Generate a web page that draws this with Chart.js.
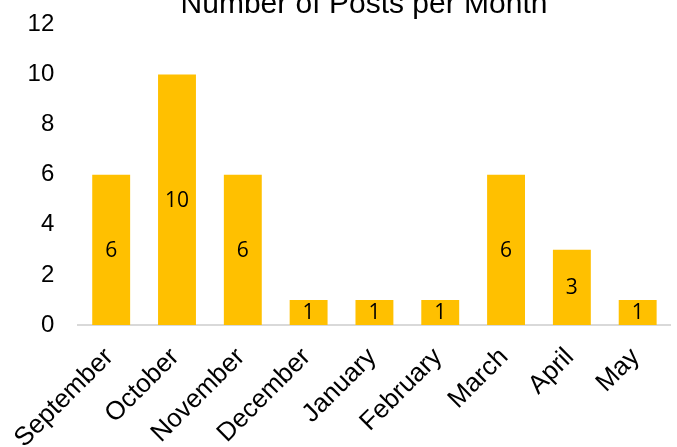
<!DOCTYPE html>
<html>
<head>
<meta charset="utf-8">
<script src="https://cdn.jsdelivr.net/npm/chart.js@4.4.0/dist/chart.umd.min.js"></script>
<style>
html,body{margin:0;padding:0;background:#fff;overflow:hidden;}
#wrap{width:677px;height:447px;position:relative;overflow:hidden;}
#c{position:absolute;left:0;top:-14px;}
</style>
</head>
<body>
<div id="wrap"><canvas id="c" width="677" height="461"></canvas></div>
<script>
const months = ["September","October","November","December","January","February","March","April","May"];
const posts = [6,10,6,1,1,1,6,3,1];
const yTicks = [0,2,4,6,8,10,12];
const chartTitle = "Number of Posts per Month";

const titlePlugin = {
  id: 'offTitle',
  afterDraw(chart) {
    const ctx = chart.ctx;
    ctx.save();
    ctx.font = '30px "Liberation Sans", Arial, sans-serif';
    ctx.fillStyle = '#000';
    ctx.textAlign = 'center';
    ctx.textBaseline = 'alphabetic';
    ctx.fillText(chartTitle, 364, 27);
    ctx.restore();
  }
};

const valueLabels = {
  id: 'valueLabels',
  afterDatasetsDraw(chart) {
    const ctx = chart.ctx;
    const meta = chart.getDatasetMeta(0);
    ctx.save();
    ctx.font = '21px "Open Sans", sans-serif';
    ctx.fillStyle = '#000';
    ctx.textAlign = 'center';
    ctx.textBaseline = 'middle';
    meta.data.forEach((bar, i) => {
      const v = chart.data.datasets[0].data[i];
      ctx.fillText(String(v), bar.x, (bar.y + bar.base) / 2 + 1);
    });
    ctx.restore();
  }
};

new Chart(document.getElementById('c'), {
  type: 'bar',
  data: {
    labels: months,
    datasets: [{
      data: posts,
      backgroundColor: '#FFC000',
      borderWidth: 0,
      barPercentage: 0.576,
      categoryPercentage: 1.0
    }]
  },
  options: {
    responsive: false,
    animation: false,
    layout: { padding: { top: 13, right: 5, left: 0, bottom: 0 } },
    plugins: { legend: { display: false }, title: { display: false }, tooltip: { enabled: false } },
    scales: {
      x: {
        grid: { display: false, drawTicks: false },
        border: { display: true, color: '#d9d9d9', width: 2 },
        ticks: {
          color: '#000',
          font: { family: '"Liberation Sans", Arial, sans-serif', size: 26 },
          maxRotation: 45, minRotation: 45,
          autoSkip: false,
          padding: 17,
          labelOffset: -2
        },
        afterFit(scale) { scale.height = 122; }
      },
      y: {
        min: 0, max: 12,
        afterBuildTicks(scale) { scale.ticks = yTicks.map(v => ({ value: v })); },
        grid: { display: false, drawTicks: false },
        border: { display: false },
        ticks: {
          color: '#000',
          font: { family: '"Liberation Sans", Arial, sans-serif', size: 24 },
          padding: 24
        },
        afterFit(scale) { scale.width = 78; }
      }
    }
  },
  plugins: [titlePlugin, valueLabels]
});
</script>
</body>
</html>
